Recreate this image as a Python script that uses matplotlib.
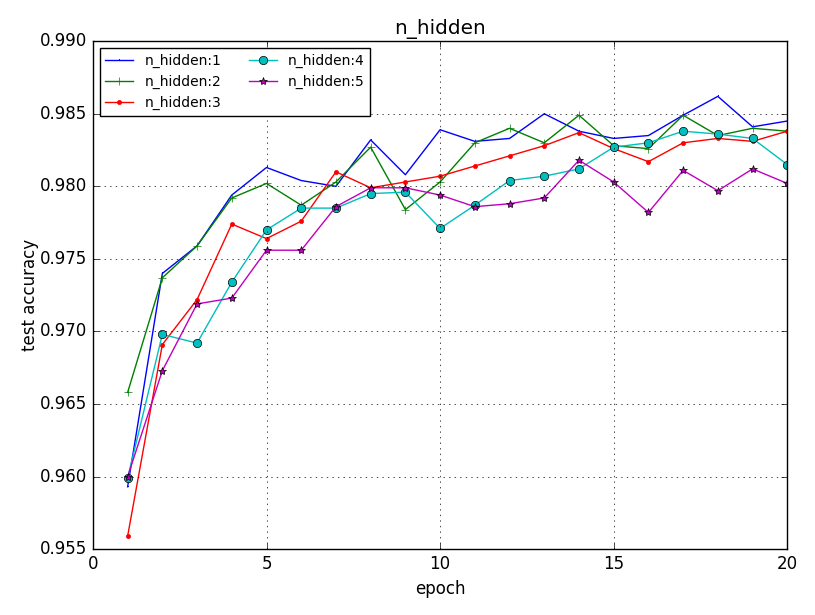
import matplotlib
matplotlib.use("Agg")
import matplotlib.pyplot as plt
import numpy as np

plt.style.use("classic")

epochs = list(range(1, 21))

acc_h1 = [0.9593, 0.9740, 0.9759, 0.9794, 0.9813, 0.9804, 0.9800, 0.9832, 0.9808, 0.9839,
          0.9831, 0.9833, 0.9850, 0.9838, 0.9833, 0.9835, 0.9849, 0.9862, 0.9841, 0.9845]
acc_h2 = [0.9658, 0.9737, 0.9759, 0.9792, 0.9802, 0.9787, 0.9803, 0.9827, 0.9784, 0.9803,
          0.9830, 0.9840, 0.9830, 0.9849, 0.9828, 0.9826, 0.9849, 0.9835, 0.9840, 0.9838]
acc_h3 = [0.9559, 0.9691, 0.9722, 0.9774, 0.9764, 0.9776, 0.9810, 0.9799, 0.9803, 0.9807,
          0.9814, 0.9821, 0.9828, 0.9837, 0.9826, 0.9817, 0.9830, 0.9833, 0.9831, 0.9838]
acc_h4 = [0.9599, 0.9698, 0.9692, 0.9734, 0.9770, 0.9785, 0.9785, 0.9795, 0.9796, 0.9771,
          0.9787, 0.9804, 0.9807, 0.9812, 0.9827, 0.9830, 0.9838, 0.9836, 0.9833, 0.9815]
acc_h5 = [0.9600, 0.9673, 0.9719, 0.9723, 0.9756, 0.9756, 0.9786, 0.9799, 0.9799, 0.9794,
          0.9786, 0.9788, 0.9792, 0.9818, 0.9803, 0.9782, 0.9811, 0.9797, 0.9812, 0.9802]

series = [
    ("n_hidden:1", acc_h1, "b", ","),
    ("n_hidden:2", acc_h2, "g", "+"),
    ("n_hidden:3", acc_h3, "r", "."),
    ("n_hidden:4", acc_h4, "c", "o"),
    ("n_hidden:5", acc_h5, "m", "*"),
]

fig = plt.figure(figsize=(8.15, 6.15), dpi=100)
ax = fig.add_subplot(111)
fig.subplots_adjust(left=0.114, right=0.966, top=0.933, bottom=0.107)

for name, vals, col, mk in series:
    ax.plot(epochs, vals, color=col, marker=mk, label=name)

ax.set_xlim(0, 20)
ax.set_ylim(0.955, 0.990)
ax.set_xticks([0, 5, 10, 15, 20])
ax.set_yticks(np.arange(0.955, 0.9901, 0.005))
ax.yaxis.set_major_formatter(matplotlib.ticker.FormatStrFormatter("%.3f"))
ax.grid(True)
ax.set_title("n_hidden")
ax.set_xlabel("epoch")
ax.set_ylabel("test accuracy", labelpad=1)
ax.legend(loc="upper left", ncol=2, fontsize=10, numpoints=1)

fig.savefig("out.png", dpi=100)
